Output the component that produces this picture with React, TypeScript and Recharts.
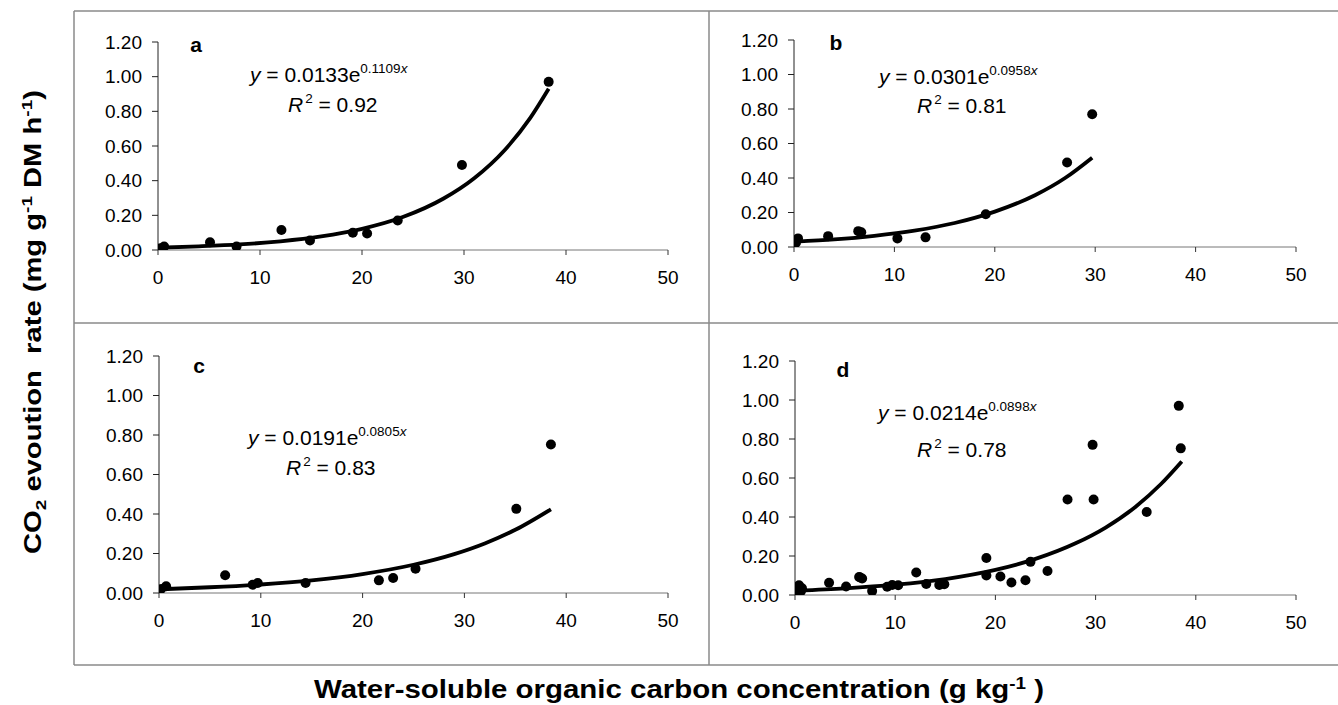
import React from 'react';
import { ComposedChart, Scatter, Line, XAxis, YAxis } from 'recharts';

// ---------- data ----------
const xTicks = [0, 10, 20, 30, 40, 50];
const yTicks = [0, 0.2, 0.4, 0.6, 0.8, 1.0, 1.2];

const aX = [0.2, 0.6, 5.1, 7.7, 12.1, 14.9, 19.1, 20.5, 23.5, 29.8, 38.3];
const aY = [0.01, 0.02, 0.044, 0.02, 0.115, 0.055, 0.1, 0.095, 0.17, 0.49, 0.97];

const bX = [0.2, 0.4, 3.4, 6.4, 6.7, 10.3, 13.1, 19.1, 27.2, 29.7];
const bY = [0.025, 0.05, 0.063, 0.092, 0.085, 0.05, 0.056, 0.19, 0.49, 0.77];

const cX = [0.2, 0.7, 6.5, 9.2, 9.7, 14.4, 21.6, 23.0, 25.2, 35.1, 38.5];
const cY = [0.02, 0.034, 0.09, 0.042, 0.051, 0.051, 0.064, 0.076, 0.123, 0.426, 0.752];

// trend curves
const trendAX = [0, 4, 8, 12, 16, 20, 24, 28, 31, 34, 36.5, 38.3];
const trendAY = [0.013, 0.021, 0.032, 0.05, 0.078, 0.122, 0.19, 0.297, 0.414, 0.577, 0.762, 0.93];

const trendBX = [0.2, 4, 8, 12, 16, 20, 24, 27, 29.7];
const trendBY = [0.031, 0.044, 0.065, 0.095, 0.139, 0.205, 0.3, 0.4, 0.518];

const trendCX = [0.2, 5, 10, 15, 20, 25, 29, 32, 35, 38.5];
const trendCY = [0.019, 0.029, 0.043, 0.064, 0.096, 0.143, 0.197, 0.251, 0.32, 0.424];

const trendDX = [0.2, 5, 10, 15, 20, 24, 28, 31, 34, 36.5, 38.6];
const trendDY = [0.022, 0.034, 0.053, 0.082, 0.129, 0.185, 0.265, 0.346, 0.453, 0.568, 0.685];

const panelLetters = ['a', 'b', 'c', 'd'];
const eqCoef = ['0.0133', '0.0301', '0.0191', '0.0214'];
const eqExp = ['0.1109', '0.0958', '0.0805', '0.0898'];
const r2Vals = ['0.92', '0.81', '0.83', '0.78'];

const yTitleParts = ['CO', '2', ' evoution  rate (mg g', '-1', ' DM h', '-1', ')'];
const xTitleParts = ['Water-soluble organic carbon concentration (g kg', '-1', ' )'];

// ---------- helpers ----------
const zip = (xs: number[], ys: number[]) => xs.map((x, i) => ({ x, y: ys[i] }));

const ptsA = zip(aX, aY);
const ptsB = zip(bX, bY);
const ptsC = zip(cX, cY);
const ptsD = [...ptsA, ...ptsB, ...ptsC];

const seriesPts = [ptsA, ptsB, ptsC, ptsD];
const seriesTrend = [zip(trendAX, trendAY), zip(trendBX, trendBY), zip(trendCX, trendCY), zip(trendDX, trendDY)];

// ---------- layout ----------
const FONT = "'Liberation Sans', Arial, Helvetica, sans-serif";
const Y_AXIS_W = 70;
const X_AXIS_H = 40;

const layouts = [
  { box: { left: 74, top: 12, width: 636, height: 311 }, plot: { x0: 158, x1: 668, y0: 42, y1: 250 },
    letter: { x: 196, y: 52 }, eq: { x: 250, y: 82 }, r2: { x: 288, y: 112 } },
  { box: { left: 710, top: 12, width: 628, height: 311 }, plot: { x0: 794, x1: 1296, y0: 40, y1: 247 },
    letter: { x: 836, y: 50 }, eq: { x: 879, y: 84 }, r2: { x: 917, y: 113 } },
  { box: { left: 74, top: 323, width: 636, height: 342 }, plot: { x0: 159, x1: 668, y0: 356, y1: 593 },
    letter: { x: 199, y: 373 }, eq: { x: 248, y: 445 }, r2: { x: 286, y: 475 } },
  { box: { left: 710, top: 323, width: 628, height: 342 }, plot: { x0: 795, x1: 1296, y0: 361, y1: 595 },
    letter: { x: 843, y: 377 }, eq: { x: 878, y: 420 }, r2: { x: 917, y: 457 } },
];

const Dot = (p: any) => <circle cx={p.cx} cy={p.cy} r={5} fill="#000" />;

function Panel({ idx }: { idx: number }) {
  const { box, plot } = layouts[idx];
  const margin = {
    left: plot.x0 - box.left - Y_AXIS_W,
    right: box.left + box.width - plot.x1,
    top: plot.y0 - box.top,
    bottom: box.top + box.height - plot.y1 - X_AXIS_H,
  };
  return (
    <div style={{ position: 'absolute', left: box.left, top: box.top }}>
      <ComposedChart width={box.width} height={box.height} margin={margin}>
        <XAxis
          type="number"
          dataKey="x"
          domain={[0, 50]}
          ticks={xTicks}
          interval={0}
          height={X_AXIS_H}
          tickSize={5}
          tickMargin={16}
          axisLine={{ stroke: '#777', strokeWidth: 1 }}
          tickLine={{ stroke: '#333', strokeWidth: 1 }}
          tick={{ fontSize: 19, fill: '#000', fontFamily: FONT }}
          allowDataOverflow
        />
        <YAxis
          type="number"
          dataKey="y"
          domain={[0, 1.2]}
          ticks={yTicks}
          interval={0}
          width={Y_AXIS_W}
          tickSize={6}
          tickMargin={10}
          tickFormatter={(v: number) => v.toFixed(2)}
          axisLine={{ stroke: '#222', strokeWidth: 1 }}
          tickLine={{ stroke: '#222', strokeWidth: 1 }}
          tick={{ fontSize: 19, fill: '#000', fontFamily: FONT }}
          allowDataOverflow
        />
        <Line
          data={seriesTrend[idx]}
          dataKey="y"
          type="monotone"
          stroke="#000"
          strokeWidth={3.8}
          dot={false}
          activeDot={false}
          isAnimationActive={false}
        />
        <Scatter data={seriesPts[idx]} dataKey="y" fill="#000" shape={Dot} isAnimationActive={false} />
      </ComposedChart>
    </div>
  );
}

function Overlay() {
  const frame = '#8a8a8a';
  return (
    <svg
      width={1338}
      height={705}
      style={{ position: 'absolute', left: 0, top: 0, pointerEvents: 'none' }}
    >
      <g stroke={frame} strokeWidth={1.5}>
        <line x1={74} y1={11} x2={74} y2={665} />
        <line x1={74} y1={11} x2={1338} y2={11} />
        <line x1={709} y1={11} x2={709} y2={665} />
        <line x1={74} y1={323} x2={1338} y2={323} />
        <line x1={74} y1={665} x2={1338} y2={665} />
      </g>
      {layouts.map((l, i) => (
        <g key={i} fontFamily={FONT} fill="#000">
          <text x={l.letter.x} y={l.letter.y} textAnchor="middle" fontWeight="bold" fontSize={21}>
            {panelLetters[i]}
          </text>
          <text x={l.eq.x} y={l.eq.y} fontSize={21} style={{ whiteSpace: 'pre' }}>
            <tspan fontStyle="italic">y</tspan>
            <tspan>{` = ${eqCoef[i]}e`}</tspan>
            <tspan fontSize={13.5} dy={-9}>{eqExp[i]}</tspan>
            <tspan fontSize={13.5} fontStyle="italic">x</tspan>
          </text>
          <text x={l.r2.x} y={l.r2.y} fontSize={21} style={{ whiteSpace: 'pre' }}>
            <tspan fontStyle="italic">R</tspan>
            <tspan fontSize={13.5} dx={2} dy={-9}>2</tspan>
            <tspan dy={9}>{` = ${r2Vals[i]}`}</tspan>
          </text>
        </g>
      ))}
      <text
        transform="translate(41,322) rotate(-90)"
        textAnchor="middle"
        fontFamily={FONT}
        fontWeight="bold"
        fontSize={23}
        textLength={464}
        lengthAdjust="spacingAndGlyphs"
        style={{ whiteSpace: 'pre' }}
      >
        <tspan>{yTitleParts[0]}</tspan>
        <tspan fontSize={15} dy={5}>{yTitleParts[1]}</tspan>
        <tspan dy={-5}>{yTitleParts[2]}</tspan>
        <tspan fontSize={15} dy={-9}>{yTitleParts[3]}</tspan>
        <tspan dy={9}>{yTitleParts[4]}</tspan>
        <tspan fontSize={15} dy={-9}>{yTitleParts[5]}</tspan>
        <tspan dy={9}>{yTitleParts[6]}</tspan>
      </text>
      <text
        x={679}
        y={698}
        textAnchor="middle"
        fontFamily={FONT}
        fontWeight="bold"
        fontSize={25}
        textLength={730}
        lengthAdjust="spacingAndGlyphs"
        style={{ whiteSpace: 'pre' }}
      >
        <tspan>{xTitleParts[0]}</tspan>
        <tspan fontSize={16} dy={-9}>{xTitleParts[1]}</tspan>
        <tspan dy={9}>{xTitleParts[2]}</tspan>
      </text>
    </svg>
  );
}

export default function App() {
  return (
    <div style={{ position: 'absolute', left: 0, top: 0, width: 1338, height: 705, background: '#fff' }}>
      {layouts.map((_, i) => (
        <Panel key={i} idx={i} />
      ))}
      <Overlay />
    </div>
  );
}
